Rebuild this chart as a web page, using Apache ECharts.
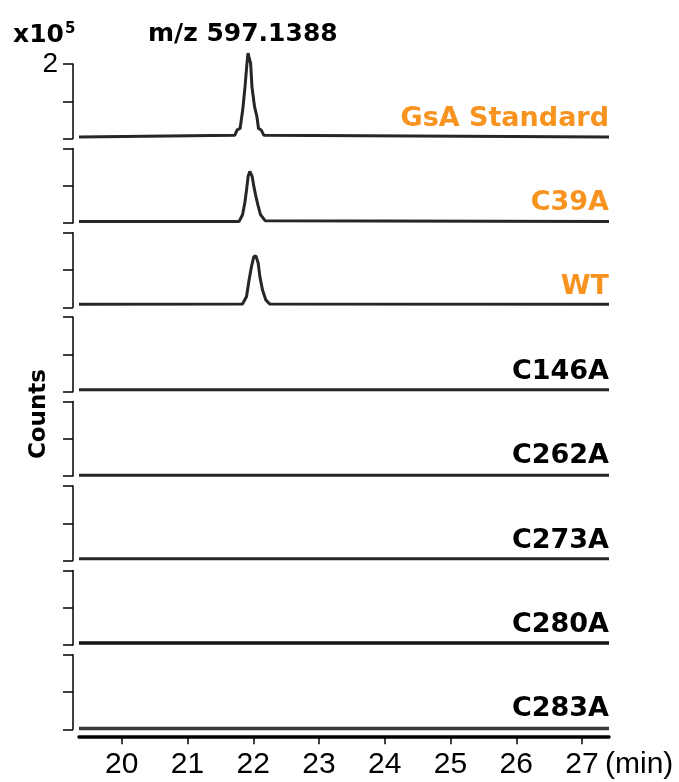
<!DOCTYPE html>
<html lang="en">
<head>
	<meta charset="utf-8" />
	<title>EIC m/z 597.1388</title>
	<script src="https://cdn.jsdelivr.net/npm/echarts@6.0.0/dist/echarts.min.js"></script>
	<style>
		html, body { margin: 0; padding: 0; background: #fff; }
		#chart { width: 679px; height: 782px; }
	</style>
</head>
<body>
	<div id="chart"></div>
	<script>
		// samples (x10^5 counts), traces from top to bottom
		var sampleNames = ['GsA Standard', 'C39A', 'WT', 'C146A', 'C262A', 'C273A', 'C280A', 'C283A'];
		var nameColors = ['#F7931E', '#F7931E', '#F7931E', '#000', '#000', '#000', '#000', '#000'];
		var baselines = [0.04, 0.04, 0.08, 0.05, 0.02, 0.05, 0.05, 0.02];

		var stdTime   = [21.72, 21.755, 21.80, 21.84, 21.875, 21.90, 21.92, 21.96, 21.98, 22.02, 22.055, 22.08, 22.12, 22.16];
		var stdCounts = [0.09, 0.23, 0.27, 0.77, 1.39, 1.93, 2.29, 2.02, 1.39, 0.85, 0.59, 0.27, 0.23, 0.09];

		var c39aTime   = [21.785, 21.837, 21.872, 21.898, 21.922, 21.948, 21.983, 22.009, 22.04, 22.075, 22.11, 22.18];
		var c39aCounts = [0.04, 0.22, 0.54, 0.89, 1.25, 1.38, 1.25, 0.98, 0.71, 0.45, 0.22, 0.06];

		var wtTime   = [21.837, 21.898, 21.937, 21.974, 22.009, 22.04, 22.075, 22.10, 22.14, 22.19, 22.25];
		var wtCounts = [0.09, 0.29, 0.74, 1.10, 1.36, 1.38, 1.19, 0.83, 0.47, 0.20, 0.09];

		var xTicks = [20, 21, 22, 23, 24, 25, 26, 27];
		var xMin = 19.35, xMax = 27.41;

		var peaks = { 0: [stdTime, stdCounts], 1: [c39aTime, c39aCounts], 2: [wtTime, wtCounts] };

		var dom = document.getElementById('chart');
		var myChart = echarts.init(dom);

		var firstTop = 64, step = 84.4, gridH = 74.5;
		var grids = [], xAxes = [], yAxes = [], series = [], titles = [];

		titles.push({
			text: 'm/z 597.1388', left: 143, top: 17,
			textStyle: { fontFamily: 'DejaVu Sans', fontWeight: 'bold', fontSize: 25, color: '#000' }
		});
		titles.push({
			text: 'x10{s|5}', left: 8, top: 17,
			textStyle: {
				fontFamily: 'DejaVu Sans', fontWeight: 'bold', fontSize: 25, color: '#000',
				rich: { s: { fontFamily: 'DejaVu Sans', fontWeight: 'bold', fontSize: 15, verticalAlign: 'top', padding: [0, 0, 12, 1] } }
			}
		});

		for (var i = 0; i < sampleNames.length; i++) {
			var isLast = i === sampleNames.length - 1;
			var panelTop = firstTop + step * i;
			grids.push({ left: 79, right: 70, top: panelTop, height: gridH });

			xAxes.push({
				gridIndex: i, type: 'value', min: xMin, max: xMax,
				show: isLast, offset: 7,
				axisLine: { show: true, onZero: false, lineStyle: { color: '#000', width: 3.5 } },
				axisTick: { show: true, length: 8, customValues: xTicks, lineStyle: { color: '#000', width: 1.5 } },
				axisLabel: { show: true, customValues: xTicks, margin: 13, fontFamily: 'Liberation Sans', fontSize: 30, color: '#000' },
				splitLine: { show: false },
				name: isLast ? '(min)' : '', nameLocation: 'end', nameGap: -4,
				nameTextStyle: { fontFamily: 'Liberation Sans', fontSize: 30, color: '#000', verticalAlign: 'top', padding: [13, 0, 0, 0] }
			});

			yAxes.push({
				gridIndex: i, type: 'value', min: 0, max: 2, interval: 1, offset: 6,
				axisLine: { show: true, lineStyle: { color: '#000', width: 1.5 } },
				axisTick: { show: true, length: 10, lineStyle: { color: '#000', width: 1.5 } },
				axisLabel: {
					show: i === 0, margin: 15, fontFamily: 'Liberation Sans', fontSize: 28, color: '#000',
					formatter: function (v) { return v === 2 ? '2' : ''; }
				},
				splitLine: { show: false }
			});

			var b = baselines[i];
			var pts = [[xMin, b]];
			if (peaks[i]) {
				var t = peaks[i][0], c = peaks[i][1];
				for (var k = 0; k < t.length; k++) pts.push([t[k], c[k]]);
			}
			pts.push([xMax, b]);

			series.push({
				name: sampleNames[i], type: 'line', xAxisIndex: i, yAxisIndex: i,
				data: pts, showSymbol: false, clip: false, silent: true,
				lineStyle: { color: i === 7 ? '#3a3a3a' : (i === 6 ? '#111' : '#262626'), width: i >= 6 ? 3.5 : 3 }
			});

			titles.push({
				text: sampleNames[i], right: 65, top: panelTop + 36,
				textStyle: { fontFamily: 'DejaVu Sans', fontWeight: 'bold', fontSize: 27, color: nameColors[i] }
			});
		}

		option = {
			animation: false,
			title: titles,
			grid: grids,
			xAxis: xAxes,
			yAxis: yAxes,
			series: series,
			graphic: [{
				type: 'text', x: 39, y: 414, rotation: Math.PI / 2,
				style: {
					text: 'Counts', fontFamily: 'DejaVu Sans', fontWeight: 'bold', fontSize: 23,
					fill: '#000', align: 'center', verticalAlign: 'middle'
				}
			}]
		};
		myChart.setOption(option);
	</script>
</body>
</html>
